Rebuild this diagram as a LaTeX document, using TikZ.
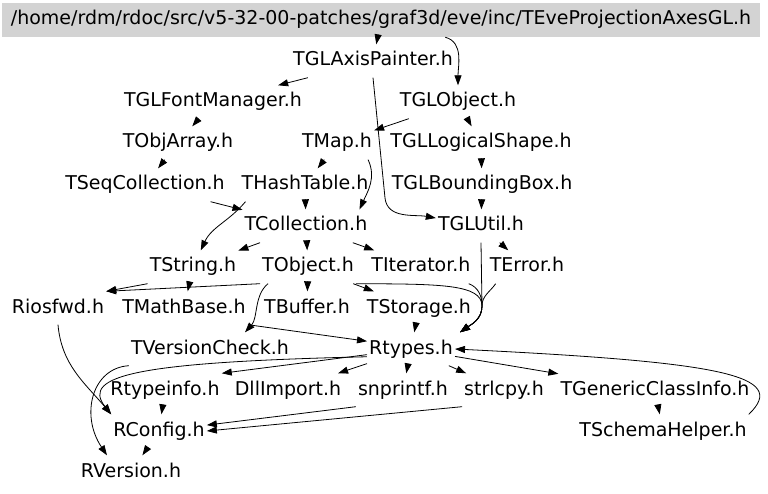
\documentclass[tikz,border=0pt]{standalone}
\usepackage{fontspec}
\setmainfont{DejaVu Sans}
\usetikzlibrary{arrows.meta, calc}
\definecolor{rootgray}{RGB}{211,211,211}
\newcommand{\filefont}{\fontsize{19}{21}\selectfont}

\begin{document}
\begin{tikzpicture}[x=1pt, y=1pt, >={Triangle[length=10pt,width=7pt]},
  file/.style={inner xsep=2pt, inner ysep=7pt, text height=14.5pt, text depth=4.5pt, font=\filefont},
  dep/.style={->, line width=0.8pt}]
\useasboundingbox (0,0) rectangle (768,-494);
\node (Root) [file, fill=rootgray, minimum width=758pt, minimum height=34pt, inner ysep=0pt] at (381,-20) {/home/rdm/rdoc/src/v5-32-00-patches/graf3d/eve/inc/TEveProjectionAxesGL.h};

\node (AxisPainter) [file] at (373,-61) {TGLAxisPainter.h};
\node (FontManager) [file] at (213,-102) {TGLFontManager.h};
\node (GLObject) [file] at (458,-102) {TGLObject.h};
\node (ObjArray) [file] at (178,-143) {TObjArray.h};
\node (Map) [file] at (337,-143) {TMap.h};
\node (LogicalShape) [file] at (481,-143) {TGLLogicalShape.h};
\node (SeqColl) [file] at (145,-185) {TSeqCollection.h};
\node (HashTable) [file] at (305,-185) {THashTable.h};
\node (BoundingBox) [file] at (482,-185) {TGLBoundingBox.h};
\node (Collection) [file] at (306,-226) {TCollection.h};
\node (GLUtil) [file] at (481,-226) {TGLUtil.h};
\node (String) [file] at (193,-267) {TString.h};
\node (Object) [file] at (308,-267) {TObject.h};
\node (Iterator) [file] at (421,-267) {TIterator.h};
\node (Error) [file] at (527,-267) {TError.h};
\node (Iosfwd) [file] at (58,-308) {Riosfwd.h};
\node (MathBase) [file] at (184,-308) {TMathBase.h};
\node (Buffer) [file] at (307,-308) {TBuffer.h};
\node (Storage) [file] at (419,-308) {TStorage.h};
\node (VersionCheck) [file] at (210,-349) {TVersionCheck.h};
\node (Rtypes) [file] at (411,-349) {Rtypes.h};
\node (Typeinfo) [file] at (165,-390) {Rtypeinfo.h};
\node (DllImport) [file] at (288,-390) {DllImport.h};
\node (Snprintf) [file] at (403,-390) {snprintf.h};
\node (Strlcpy) [file] at (504,-390) {strlcpy.h};
\node (GenericInfo) [file] at (655,-390) {TGenericClassInfo.h};
\node (SchemaHelper) [file] at (663,-431) {TSchemaHelper.h};
\node (RConfig) [file] at (159,-431) {RConfig.h};
\node (RVersion) [file] at (131,-472) {RVersion.h};

\coordinate (join) at (482,-306);

\draw[dep] (Root) -- (AxisPainter);
\draw[dep] (Root) to[out=-15,in=90] (GLObject);
\draw[dep] (AxisPainter) -- (FontManager);
\draw[dep] (AxisPainter.south) -- (385,-198) to[out=-84,in=170] (GLUtil.170);
\draw[dep] (GLObject) -- (Map);
\draw[dep] (GLObject) -- (LogicalShape);
\draw[dep] (FontManager) -- (ObjArray);
\draw[dep] (ObjArray) -- (SeqColl);
\draw[dep] (Map) -- (HashTable);
\draw[dep] ([xshift=-6pt]Map.south east) to[out=-65,in=65] ([xshift=-10pt]Collection.north east);
\draw[dep] (SeqColl) -- (Collection);
\draw[dep] (HashTable) -- (Collection);
\draw[dep] ([xshift=6pt]HashTable.south west) to[out=-130,in=65] (String);
\draw[dep] (Collection) -- (String);
\draw[dep] (Collection) -- (Object);
\draw[dep] (Collection) -- (Iterator);
\draw[dep] (LogicalShape) -- (BoundingBox);
\draw[dep] (BoundingBox) -- (GLUtil);
\draw[dep] (GLUtil) -- (Error);

% into Rtypes from above
\draw[dep] (GLUtil.south) -- (join) to[out=-90,in=35] ([xshift=5pt]Rtypes.north east);
\draw[dep] ([xshift=8pt]Error.south west) to[out=-125,in=90] (join) to[out=-90,in=35] ([xshift=5pt]Rtypes.north east);
\draw[dep] ([xshift=-4pt]Iterator.south east) to[out=-20,in=90] (join) to[out=-90,in=35] ([xshift=5pt]Rtypes.north east);
\draw[dep] (Object.south east) .. controls (440,-284) and (482,-284) .. (join) to[out=-90,in=35] ([xshift=5pt]Rtypes.north east);

\draw[dep] (String.south west) -- (Iosfwd.north east);
\draw[dep] (Object.south west) -- (Iosfwd.north east);
\draw[dep] (String) -- (MathBase);
\draw[dep] (Object) -- (Buffer);
\draw[dep] (Object) -- (Storage);
\draw[dep] ([xshift=8pt]Object.south west) .. controls (254,-295) and (258,-318) .. ([xshift=35pt]VersionCheck.north);
\draw[dep] (MathBase.south east) -- (Rtypes.170);
\draw[dep] (Storage) -- (Rtypes);

% out of Rtypes
\draw[dep] (Rtypes) -- (Typeinfo.north east);
\draw[dep] (Rtypes.190) .. controls (140,-362) and (80,-375) .. (RConfig.north west);
\draw[dep] (Rtypes) -- (DllImport);
\draw[dep] (Rtypes) -- (Snprintf);
\draw[dep] (Rtypes) -- (Strlcpy);
\draw[dep] (Rtypes) -- (GenericInfo);
\draw[dep] (GenericInfo) -- (SchemaHelper);
\draw[dep] (SchemaHelper.north east) .. controls (790,-375) and (720,-362) .. (Rtypes.east);

\draw[dep] (Typeinfo) -- (RConfig);
\draw[dep] (Snprintf.south west) -- (RConfig);
\draw[dep] (Strlcpy.south west) -- (RConfig.east);
\draw[dep] (Iosfwd.south) to[out=-85,in=130] (RConfig.north west);
\draw[dep] (VersionCheck.south west) .. controls (92,-368) and (80,-415) .. ([xshift=-24pt]RVersion.north);
\draw[dep] (RConfig) -- (RVersion);
\end{tikzpicture}
\end{document}
